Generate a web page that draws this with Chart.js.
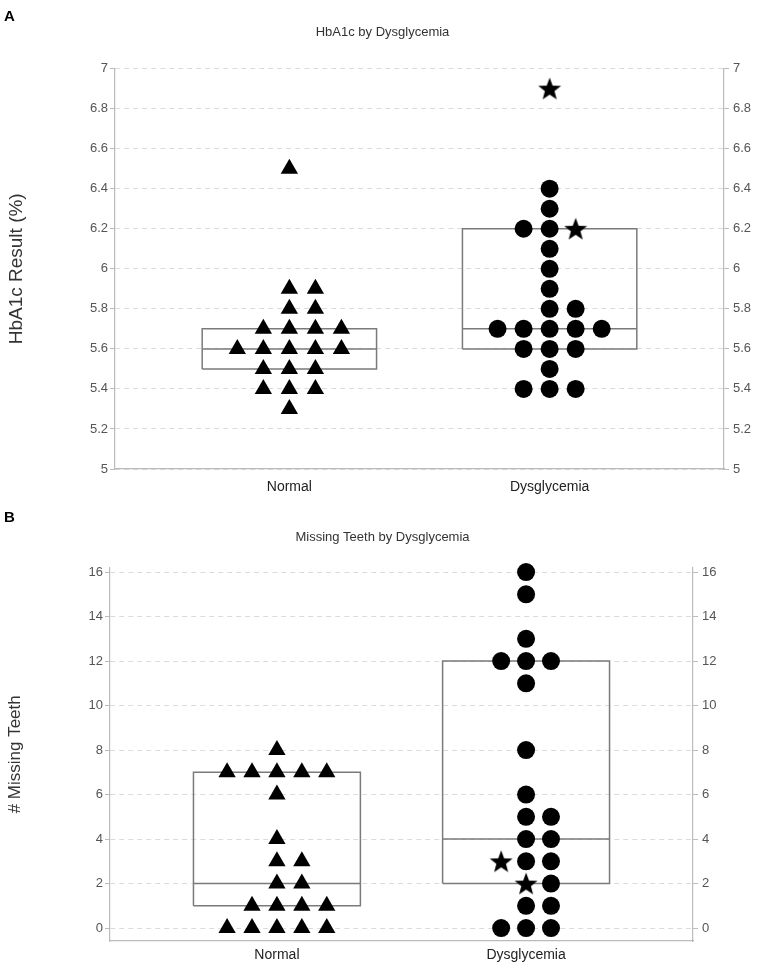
<!DOCTYPE html>
<html>
<head>
<meta charset="utf-8">
<title>HbA1c and Missing Teeth by Dysglycemia</title>
<script src="https://cdn.jsdelivr.net/npm/chart.js@4.4.0/dist/chart.umd.min.js"></script>
<style>
  body { margin: 0; background: #fff; font-family: 'Liberation Sans', Arial, sans-serif; }
  #wrap { position: relative; width: 765px; height: 972px; }
  .panel { position: absolute; left: 0; }
  .tag { position: absolute; left: 4px; font-weight: bold; font-size: 15px; color: #000; }
</style>
</head>
<body>
<div id="wrap">
  <canvas id="chartA" class="panel" width="765" height="500" style="top:0"></canvas>
  <canvas id="chartB" class="panel" width="765" height="472" style="top:500px"></canvas>
  <div class="tag" style="top:7px">A</div>
  <div class="tag" style="top:508px">B</div>
</div>
<script>
// ==========================================
// DATA
// ==========================================
const categories = ['Normal', 'Dysglycemia'];

// Panel A: HbA1c result (%)
const hba1cNormal = [6.5, 5.9, 5.9, 5.8, 5.8, 5.7, 5.7, 5.7, 5.7, 5.6, 5.6, 5.6, 5.6, 5.6,
  5.5, 5.5, 5.5, 5.4, 5.4, 5.4, 5.3];
const hba1cDysCircles = [6.4, 6.3, 6.2, 6.2, 6.1, 6.0, 5.9, 5.8, 5.8, 5.7, 5.7, 5.7, 5.7, 5.7,
  5.6, 5.6, 5.6, 5.5, 5.4, 5.4, 5.4];
const hba1cDysStars = [6.9, 6.2];
const hba1cBoxNormal = [5.5, 5.6, 5.7]; // q1, median, q3
const hba1cBoxDys = [5.6, 5.7, 6.2];
const hba1cTicks = [5, 5.2, 5.4, 5.6, 5.8, 6, 6.2, 6.4, 6.6, 6.8, 7];

// Panel B: number of missing teeth
const teethNormal = [8, 7, 7, 7, 7, 7, 6, 4, 3, 3, 2, 2, 1, 1, 1, 1, 0, 0, 0, 0, 0];
const teethDysCircles = [16, 15, 13, 12, 12, 12, 11, 8, 6, 5, 5, 4, 4, 3, 3, 2, 1, 1, 0, 0, 0];
const teethDysStars = [3, 2];
const teethBoxNormal = [1, 2, 7];
const teethBoxDys = [2, 4, 12];
const teethTicks = [0, 2, 4, 6, 8, 10, 12, 14, 16];

// ==========================================
// HELPERS
// ==========================================
const FONT = "'Liberation Sans', Arial, sans-serif";
const STEP = 0.1;      // horizontal spacing between stacked markers
const BOX_HALF = 0.335;

// spread equal values side by side (first one in the middle, extra ones to the right)
function swarm(groups, center) {
  const counts = {}, used = {};
  groups.forEach(g => g.forEach(v => {
    const k = v.toFixed(2);
    counts[k] = (counts[k] || 0) + 1;
  }));
  return groups.map(g => g.map(v => {
    const k = v.toFixed(2);
    const slot = (used[k] || 0) - Math.floor((counts[k] - 1) / 2);
    used[k] = (used[k] || 0) + 1;
    return { x: center + slot * STEP, y: v };
  }));
}

function boxOutline(center, q) {
  return [
    { x: center - BOX_HALF, y: q[0] },
    { x: center - BOX_HALF, y: q[2] },
    { x: center + BOX_HALF, y: q[2] },
    { x: center + BOX_HALF, y: q[0] },
    { x: center - BOX_HALF, y: q[0] },
  ];
}

function medianLine(center, q) {
  return [{ x: center - BOX_HALF, y: q[1] }, { x: center + BOX_HALF, y: q[1] }];
}

function makeStar(size) {
  const c = document.createElement('canvas');
  c.width = size;
  c.height = size;
  const ctx = c.getContext('2d');
  const R = size / 2, r = R * 0.42;
  ctx.beginPath();
  for (let i = 0; i < 10; i++) {
    const rad = i % 2 === 0 ? R : r;
    const a = -Math.PI / 2 + i * Math.PI / 5;
    ctx.lineTo(size / 2 + rad * Math.cos(a), size / 2 + 1 + rad * Math.sin(a));
  }
  ctx.closePath();
  ctx.fillStyle = '#000';
  ctx.fill();
  return c;
}
const starImg = makeStar(24);

function markerSet(data, style, radius) {
  return {
    data: data,
    pointStyle: style,
    pointRadius: radius,
    backgroundColor: '#000',
    borderColor: '#000',
    borderWidth: 0,
    showLine: false,
    clip: false,
  };
}

function lineSet(data) {
  return {
    data: data,
    showLine: true,
    pointRadius: 0,
    borderColor: '#7a7a7a',
    borderWidth: 1.5,
    fill: false,
  };
}

function yAxis(p, position) {
  const left = position === 'left';
  return {
    type: 'linear',
    position: position,
    min: p.yMin,
    max: p.yMax,
    afterBuildTicks: s => { s.ticks = p.ticks.map(v => ({ value: v })); },
    afterFit: s => { s.width = left ? p.leftW : p.rightW; },
    ticks: {
      color: '#555',
      font: { family: FONT, size: 13 },
      padding: left ? 2 : 4,
      callback: v => String(+v.toFixed(1)),
    },
    grid: {
      display: true,
      drawOnChartArea: left,
      color: 'rgba(0,0,0,0.14)',
      tickColor: '#bbb',
      tickLength: 5,
    },
    border: { display: true, color: '#bbb', width: 1.2, dash: [5, 4] },
    title: {
      display: left,
      text: p.yTitle,
      color: '#333',
      font: { family: FONT, size: p.yTitleSize },
      padding: { top: 5, bottom: 0 },
    },
  };
}

function makePanel(id, p) {
  const normal = swarm([p.normal], 0)[0];
  const dys = swarm(p.starFirst ? [p.stars, p.circles] : [p.circles, p.stars], 1);
  const dysStars = p.starFirst ? dys[0] : dys[1];
  const dysCircles = p.starFirst ? dys[1] : dys[0];

  return new Chart(document.getElementById(id), {
    type: 'scatter',
    data: {
      datasets: [
        markerSet(normal, 'triangle', 10),
        markerSet(dysCircles, 'circle', 9),
        markerSet(dysStars, starImg, 12),
        lineSet(boxOutline(0, p.boxNormal)),
        lineSet(medianLine(0, p.boxNormal)),
        lineSet(boxOutline(1, p.boxDys)),
        lineSet(medianLine(1, p.boxDys)),
      ],
    },
    options: {
      responsive: false,
      animation: false,
      layout: { padding: 0 },
      plugins: {
        legend: { display: false },
        tooltip: { enabled: false },
        title: {
          display: true,
          text: p.title,
          color: '#333',
          font: { family: FONT, size: 13, weight: 'normal' },
          padding: p.titlePad,
        },
      },
      scales: {
        x: {
          type: 'linear',
          min: -0.67,
          max: 1.67,
          afterBuildTicks: s => { s.ticks = categories.map((c, i) => ({ value: i })); },
          afterFit: s => { s.height = 31; },
          ticks: {
            color: '#222',
            font: { family: FONT, size: 14 },
            padding: p.xPad,
            callback: v => categories[v],
          },
          grid: { display: false, drawTicks: false },
          border: { display: true, color: '#bbb', width: 1.2 },
        },
        y: yAxis(p, 'left'),
        y2: yAxis(p, 'right'),
      },
    },
  });
}

// ==========================================
// PANELS
// ==========================================
const chartA = makePanel('chartA', {
  title: 'HbA1c by Dysglycemia',
  titlePad: { top: 25, bottom: 28 },
  yTitle: 'HbA1c Result (%)',
  yTitleSize: 19,
  yMin: 5,
  yMax: 7,
  ticks: hba1cTicks,
  leftW: 115,
  rightW: 41,
  xPad: 10,
  normal: hba1cNormal,
  circles: hba1cDysCircles,
  stars: hba1cDysStars,
  starFirst: false,
  boxNormal: hba1cBoxNormal,
  boxDys: hba1cBoxDys,
});

const chartB = makePanel('chartB', {
  title: 'Missing Teeth by Dysglycemia',
  titlePad: { top: 30, bottom: 22 },
  yTitle: '# Missing Teeth',
  yTitleSize: 17,
  yMin: -0.58,
  yMax: 16.2,
  ticks: teethTicks,
  leftW: 110,
  rightW: 72,
  xPad: 6,
  normal: teethNormal,
  circles: teethDysCircles,
  stars: teethDysStars,
  starFirst: true,
  boxNormal: teethBoxNormal,
  boxDys: teethBoxDys,
});
</script>
</body>
</html>
